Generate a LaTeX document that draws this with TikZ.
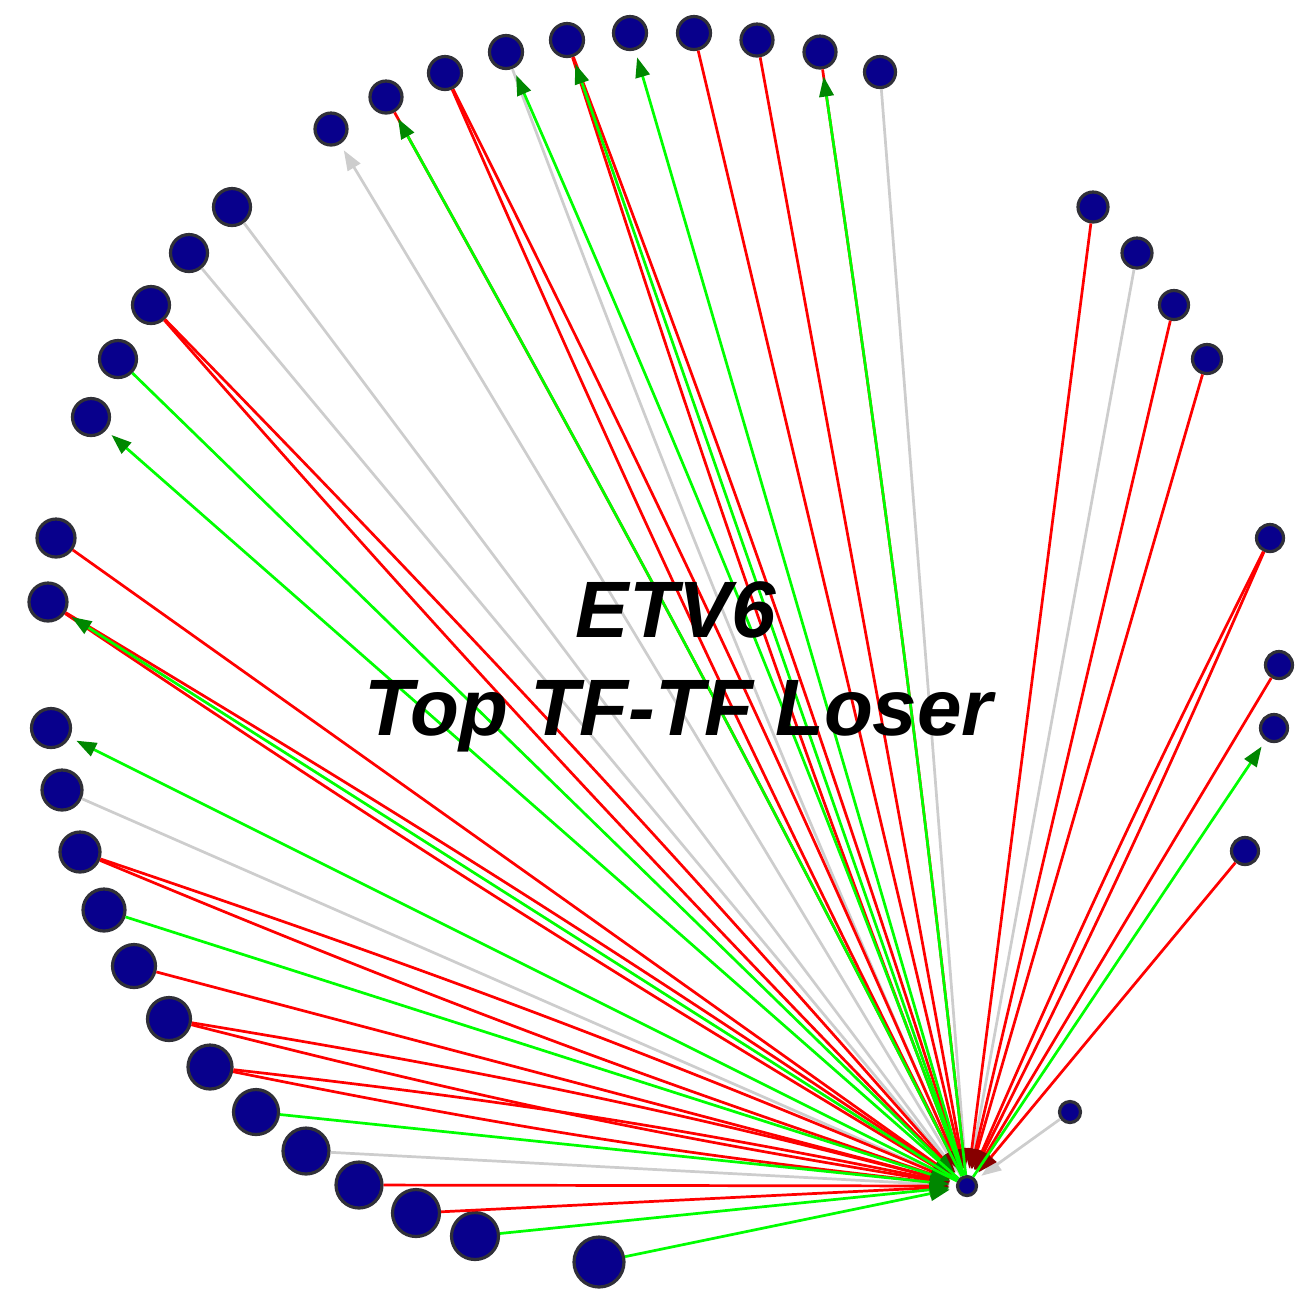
\documentclass[tikz,border=0pt]{standalone}
\usepackage{fontspec}
\setmainfont{Liberation Sans}
\usetikzlibrary{arrows.meta}
\definecolor{geneblue}{RGB}{8,0,140}
\definecolor{generim}{RGB}{48,48,56}
\definecolor{lossred}{RGB}{255,0,0}
\definecolor{lossdark}{RGB}{135,0,0}
\definecolor{gaingreen}{RGB}{0,255,0}
\definecolor{gaindark}{RGB}{0,135,0}
\definecolor{flatgray}{RGB}{205,205,205}
\tikzset{
    gene/.style={circle, draw=generim, line width=0.8pt, fill=geneblue, inner sep=0pt, minimum size=#1*0.25pt},
    gene/.default=32,
    title/.style={font=\fontsize{20}{24}\selectfont\bfseries\itshape, anchor=base, inner sep=0pt},
}

\begin{document}
\begin{tikzpicture}[x=0.25pt, y=-0.25pt]
    \tikzset{
      loss/.style={draw=lossred, line width=0.68pt, -{Triangle[length=5pt,width=3.6pt,color=lossdark]}, shorten >=1.6pt},
      gain/.style={draw=gaingreen, line width=0.68pt, -{Triangle[length=5pt,width=3.6pt,color=gaindark]}, shorten >=1.6pt},
      gainout/.style={gain, shorten >=1.8pt},
      flat/.style={draw=flatgray, line width=0.68pt, -{Triangle[length=5pt,width=3.6pt,color=flatgray]}, shorten >=1.6pt},
      flatout/.style={flat, shorten >=1.8pt}
    }
    \useasboundingbox (0,0) rectangle (1296,1290);

    % hub
    \node[gene=19] (hub) at (967,1186) {};

    % top arc
    \node[gene=32] (t1) at (331,129) {};
    \node[gene=32] (t2) at (386,97) {};
    \node[gene=33] (t3) at (445,73) {};
    \node[gene=33] (t4) at (506,52) {};
    \node[gene=33] (t5) at (567,40) {};
    \node[gene=33] (t6) at (630,33) {};
    \node[gene=33] (t7) at (694,33) {};
    \node[gene=32] (t8) at (757,40) {};
    \node[gene=32] (t9) at (820,52) {};
    \node[gene=31] (t10) at (880,72) {};

    % left arc
    \node[gene=37] (l1) at (232,207) {};
    \node[gene=37] (l2) at (189,253) {};
    \node[gene=37] (l3) at (151,305) {};
    \node[gene=37] (l4) at (118,359) {};
    \node[gene=37] (l5) at (91,417) {};
    \node[gene=38] (l6) at (56,538) {};
    \node[gene=38] (l7) at (48,602) {};
    \node[gene=39] (l8) at (51,728) {};
    \node[gene=40] (l9) at (62,790) {};
    \node[gene=40] (l10) at (80,852) {};
    \node[gene=42] (l11) at (104,910) {};
    \node[gene=43] (l12) at (134,966) {};
    \node[gene=43] (l13) at (169,1019) {};
    \node[gene=44] (l14) at (210,1067) {};
    \node[gene=45] (l15) at (256,1112) {};
    \node[gene=46] (l16) at (306,1151) {};
    \node[gene=46] (l17) at (359,1185) {};
    \node[gene=47] (l18) at (416,1213) {};
    \node[gene=47] (l19) at (475,1236) {};
    \node[gene=50] (l20) at (599,1262) {};

    % right arc
    \node[gene=30] (r1) at (1093,207) {};
    \node[gene=30] (r2) at (1137,253) {};
    \node[gene=29] (r3) at (1174,305) {};
    \node[gene=29] (r4) at (1207,359) {};
    \node[gene=27] (r5) at (1270,538) {};
    \node[gene=27] (r6) at (1279,665) {};
    \node[gene=27] (r7) at (1274,728) {};
    \node[gene=27] (r8) at (1245,851) {};
    \node[gene=21] (r9) at (1070,1112) {};

    % gray edges
    \draw (l1) edge[flat] (hub);
    \draw (l2) edge[flat] (hub);
    \draw (l9) edge[flat] (hub);
    \draw (l16) edge[flat] (hub);
    \draw (t4) edge[flat, bend right=1.5] (hub);
    \draw (t10) edge[flat] (hub);
    \draw (r2) edge[flat] (hub);
    \draw (r9) edge[flat] (hub);
    \draw (hub) edge[flatout] (t1);

    % red edges
    \draw (l3) edge[loss, bend left=1.5] (hub);
    \draw (l3) edge[loss, bend right=1.5] (hub);
    \draw (l6) edge[loss] (hub);
    \draw (l7) edge[loss, bend left=1.5] (hub);
    \draw (l7) edge[loss, bend right=1.5] (hub);
    \draw (l10) edge[loss, bend left=2] (hub);
    \draw (l10) edge[loss, bend right=2] (hub);
    \draw (l12) edge[loss] (hub);
    \draw (l13) edge[loss, bend left=2.5] (hub);
    \draw (l13) edge[loss, bend right=2.5] (hub);
    \draw (l14) edge[loss, bend left=2.5] (hub);
    \draw (l14) edge[loss, bend right=2.5] (hub);
    \draw (l17) edge[loss] (hub);
    \draw (l18) edge[loss] (hub);
    \draw (t2) edge[loss, bend left=1] (hub);
    \draw (t3) edge[loss, bend left=1.5] (hub);
    \draw (t3) edge[loss, bend right=1.5] (hub);
    \draw (t5) edge[loss, bend left=1.5] (hub);
    \draw (t5) edge[loss, bend right=1.5] (hub);
    \draw (t7) edge[loss] (hub);
    \draw (t8) edge[loss] (hub);
    \draw (t9) edge[loss, bend left=1] (hub);
    \draw (r1) edge[loss] (hub);
    \draw (r3) edge[loss] (hub);
    \draw (r4) edge[loss] (hub);
    \draw (r5) edge[loss, bend left=1.5] (hub);
    \draw (r5) edge[loss, bend right=1.5] (hub);
    \draw (r6) edge[loss] (hub);
    \draw (r8) edge[loss] (hub);

    % green edges
    \draw (l4) edge[gain] (hub);
    \draw (l11) edge[gain] (hub);
    \draw (l15) edge[gain] (hub);
    \draw (l19) edge[gain] (hub);
    \draw (l20) edge[gain] (hub);
    \draw (hub) edge[gainout] (l5);
    \draw (hub) edge[gainout] (l7);
    \draw (hub) edge[gainout] (l8);
    \draw (hub) edge[gainout, bend right=1] (t2);
    \draw (hub) edge[gainout, bend right=1.5] (t4);
    \draw (hub) edge[gainout] (t5);
    \draw (hub) edge[gainout] (t6);
    \draw (hub) edge[gainout, bend right=1] (t9);
    \draw (hub) edge[gainout] (r7);

    \node[title] (name) at (676,637) {ETV6};
    \node[title] (role) at (679,735) {Top TF-TF Loser};
\end{tikzpicture}
\end{document}
